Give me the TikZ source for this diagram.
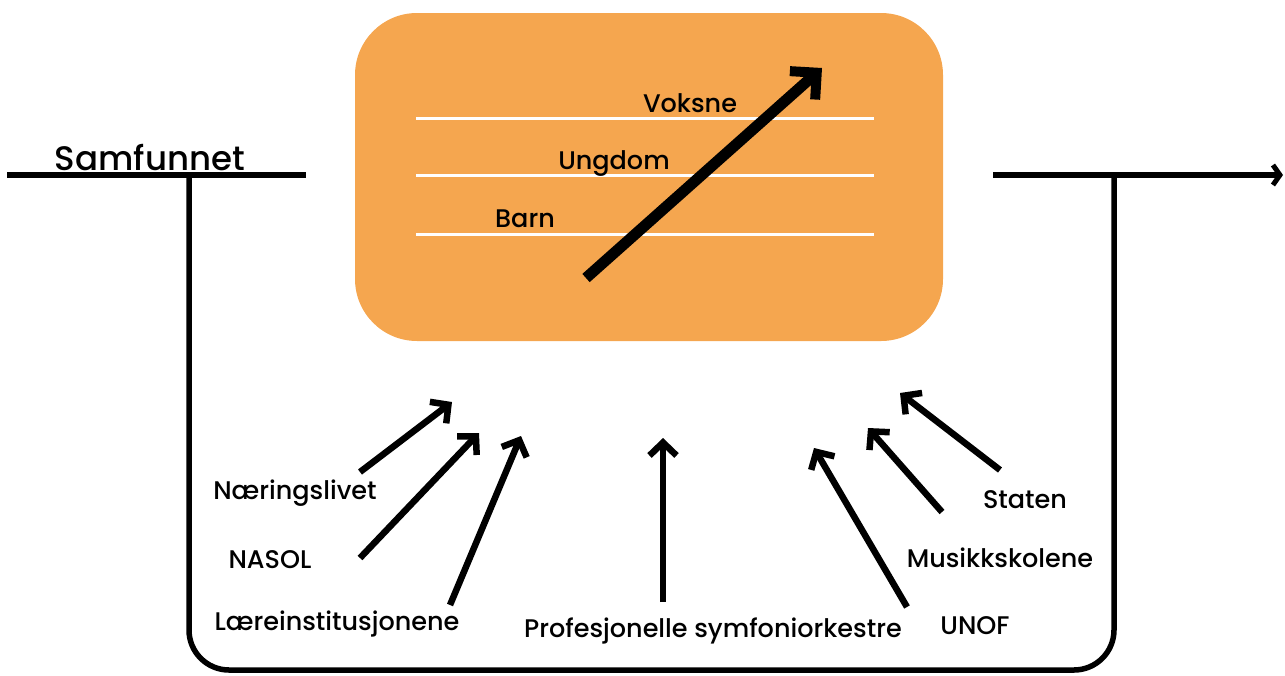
\documentclass[tikz,border=0pt]{standalone}
\usepackage{fontspec}
\setmainfont{Poppins}[UprightFont=* Medium]
\usetikzlibrary{arrows.meta}
\definecolor{boxor}{HTML}{F5A64F}
\begin{document}
\begin{tikzpicture}[x=1pt,y=-1pt,
  lbl/.style={font=\fontsize{25.5}{29}\selectfont, inner sep=0pt},
  frame/.style={line width=5.5pt, line join=round},
  inarrow/.style={line width=6.5pt, -{Straight Barb[length=13pt,width=27pt,line width=6.5pt]}},
  bigarrow/.style={line width=11pt, -{Straight Barb[length=19pt,width=38pt,line width=10pt]}},
  wline/.style={white, line width=3pt}]
\useasboundingbox (0,0) rectangle (1285,675);
\node[fill=boxor, rounded corners=62pt, minimum width=588pt, minimum height=328pt, inner sep=0pt] (box) at (649,177) {};
\draw[wline] (416,118) -- (874,118);
\draw[wline] (416,175) -- (874,175);
\draw[wline] (416,234) -- (874,234);
\node[lbl, anchor=base] (voksne) at (690,112) {Voksne};
\node[lbl, anchor=base] (ungdom) at (614,169) {Ungdom};
\node[lbl, anchor=base] (barn) at (525,227) {Barn};
\coordinate (bs) at (586,278);
\coordinate (be) at (822,68);
\draw[bigarrow] (bs) -- (be);
% frame
\coordinate (l0) at (7,175);
\coordinate (l1) at (306,175);
\coordinate (r0) at (993,175);
\coordinate (r1) at (1283,175);
\coordinate (vl) at (189,175);
\coordinate (vr) at (1114,175);
\draw[frame] (l0) -- (l1);
\draw[frame, -{Straight Barb[length=7pt,width=20pt,line width=5pt]}] (r0) -- (r1);
\draw[frame, rounded corners=40pt] (vl) -- (189,670) -- (1114,670) -- (vr);
\node[font=\fontsize{34}{38}\selectfont, anchor=base, inner sep=0pt] (samf) at (150,170) {Samfunnet};
% labels
\node[lbl, anchor=base] (nae) at (295,499) {Næringslivet};
\node[lbl, anchor=base] (nasol) at (270,568) {NASOL};
\node[lbl, anchor=base] (laer) at (337,630) {Læreinstitusjonene};
\node[lbl, anchor=base] (prof) at (713,637) {Profesjonelle symfoniorkestre};
\node[lbl, anchor=base] (unof) at (975,634) {UNOF};
\node[lbl, anchor=base] (musik) at (1000,567) {Musikkskolene};
\node[lbl, anchor=base] (staten) at (1025,508) {Staten};
% arrows
\coordinate (a1s) at (360,472); \coordinate (a1e) at (452,402);
\coordinate (a2s) at (360,558); \coordinate (a2e) at (479,433);
\coordinate (a3s) at (450,605); \coordinate (a3e) at (521,436);
\coordinate (a4s) at (663,602); \coordinate (a4e) at (663,438);
\coordinate (a5s) at (907,607); \coordinate (a5e) at (814,448);
\coordinate (a6s) at (942,512); \coordinate (a6e) at (868,428);
\coordinate (a7s) at (1000,470); \coordinate (a7e) at (900,393);
\foreach \i in {1,...,7} \draw[inarrow] (a\i s) -- (a\i e);
\end{tikzpicture}
\end{document}
